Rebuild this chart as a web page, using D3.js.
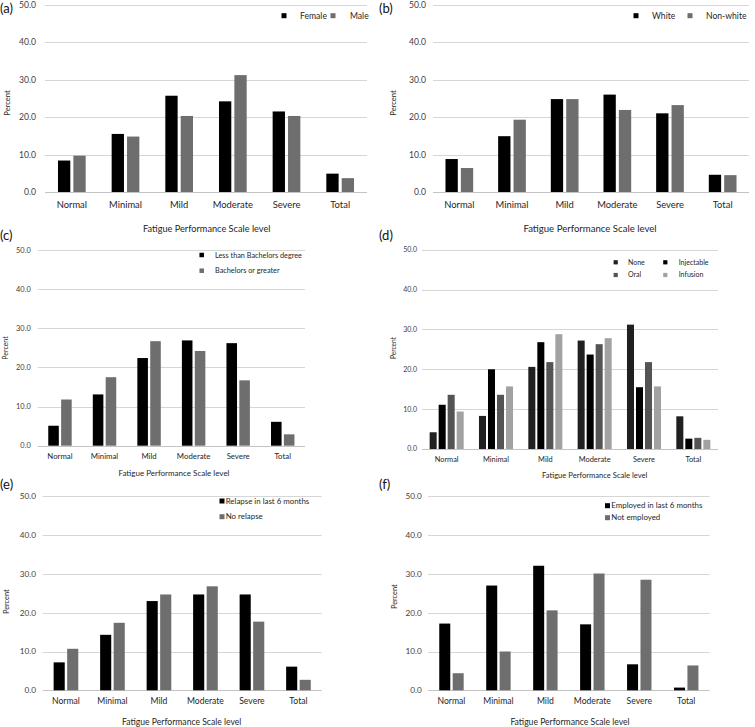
<!DOCTYPE html>
<html>
<head>
<meta charset="utf-8">
<script src="https://cdn.jsdelivr.net/npm/d3@7"></script>
<style>
  body { margin: 0; background: #fff; }
  svg { display: block; }
  text { font-family: Lato, "Open Sans", sans-serif; }
</style>
</head>
<body>
<svg id="chart" width="755" height="727"></svg>
<script>
// ---------------- DATA ----------------
const categories = ["Normal", "Minimal", "Mild", "Moderate", "Severe", "Total"];
const yTicks = [0, 10, 20, 30, 40, 50];
const xAxisTitle = "Fatigue Performance Scale level";
const yAxisTitle = "Percent";

// (a) gender
const genderSeries = ["Female", "Male"];
const femaleVals = [8.4, 15.5, 25.7, 24.2, 21.5, 4.9];
const maleVals = [9.7, 14.8, 20.3, 31.2, 20.3, 3.7];
// (b) race
const raceSeries = ["White", "Non-white"];
const whiteVals = [8.8, 14.9, 24.8, 26.0, 21.0, 4.6];
const nonWhiteVals = [6.4, 19.3, 24.8, 21.9, 23.2, 4.5];
// (c) education
const eduSeries = ["Less than Bachelors degree", "Bachelors or greater"];
const lessBachVals = [5.1, 13.1, 22.4, 26.9, 26.2, 6.1];
const bachVals = [11.8, 17.5, 26.7, 24.2, 16.7, 2.9];
// (d) treatment
const treatSeries = ["None", "Injectable", "Oral", "Infusion"];
const noneVals = [4.2, 8.3, 20.6, 27.2, 31.2, 8.2];
const injectVals = [11.1, 20.0, 26.8, 23.7, 15.5, 2.6];
const oralVals = [13.6, 13.6, 21.8, 26.3, 21.8, 2.8];
const infusionVals = [9.4, 15.7, 28.8, 27.8, 15.7, 2.3];
// (e) relapse
const relapseSeries = ["Relapse in last 6 months", "No relapse"];
const relapseVals = [7.2, 14.3, 23.0, 24.7, 24.7, 6.1];
const noRelapseVals = [10.7, 17.4, 24.7, 26.8, 17.7, 2.7];
// (f) employment
const employSeries = ["Employed in last 6 months", "Not employed"];
const employedVals = [17.2, 27.0, 32.1, 17.0, 6.7, 0.7];
const notEmployedVals = [4.4, 10.0, 20.6, 30.1, 28.5, 6.4];

// ---------------- LAYOUT ----------------
const panels = [
  { label: "(a)", lx: 0, ly: 13, series: genderSeries, values: [femaleVals, maleVals],
    colors: ["#000000", "#6e6e6e"], x: [45, 367], y: [192, 4.7], group: 0.516, inner: 0.2,
    tickX: 36, tickFs: 8.6, catY: 208, catFs: 9.4, titleX: 206.7, titleY: 231.5, titleFs: 9.2,
    pX: 7, pY: 103, pFs: 7.6,
    legend: { type: "row", y: 15.7, items: [[284, 300], [333, 350]], fs: 8.6, sq: 5 } },
  { label: "(b)", lx: 379, ly: 13, series: raceSeries, values: [whiteVals, nonWhiteVals],
    colors: ["#000000", "#6e6e6e"], x: [433, 749], y: [192, 4.7], group: 0.526, inner: 0.2,
    tickX: 426, tickFs: 8.6, catY: 208, catFs: 9.4, titleX: 590, titleY: 231.5, titleFs: 9.6,
    pX: 393, pY: 103, pFs: 7.6,
    legend: { type: "row", y: 15.7, items: [[636, 652], [690, 706]], fs: 8.6, sq: 5 } },
  { label: "(c)", lx: 0, ly: 240, series: eduSeries, values: [lessBachVals, bachVals],
    colors: ["#000000", "#6e6e6e"], x: [37.7, 305], y: [445.7, 250], group: 0.526, inner: 0.18,
    tickX: 30.7, tickFs: 7.4, catY: 459, catFs: 7.8, titleX: 174, titleY: 476.3, titleFs: 8,
    pX: 6, pY: 348, pFs: 7,
    legend: { type: "col", x: 201.7, tx: 215, ys: [255, 270.7], fs: 7.3, sq: 4.5 } },
  { label: "(d)", lx: 379, ly: 240, series: treatSeries, values: [noneVals, injectVals, oralVals, infusionVals],
    colors: ["#202020", "#000000", "#545454", "#a2a2a2"], x: [422, 718], y: [449, 249.7], group: 0.69, inner: 0.22,
    tickX: 417, tickFs: 7, catY: 462, catFs: 7.4, titleX: 594.7, titleY: 478, titleFs: 7.6,
    pX: 394, pY: 348, pFs: 6.6,
    legend: { type: "grid", items: [[615.7, 628, 262.3], [665.3, 678.7, 262.3], [615.7, 628, 275], [665.3, 678.7, 275]], fs: 7, sq: 4.2 } },
  { label: "(e)", lx: 0, ly: 489, series: relapseSeries, values: [relapseVals, noRelapseVals],
    colors: ["#000000", "#6e6e6e"], x: [42.7, 321.7], y: [690.3, 496.3], group: 0.53, inner: 0.18,
    tickX: 36, tickFs: 8.2, catY: 704, catFs: 8.6, titleX: 181.7, titleY: 725, titleFs: 8.6,
    pX: 6, pY: 601.7, pFs: 7.4,
    legend: { type: "col", x: 222, tx: 225.7, ys: [501, 516.7], fs: 7.9, sq: 5 } },
  { label: "(f)", lx: 379, ly: 489, series: employSeries, values: [employedVals, notEmployedVals],
    colors: ["#000000", "#6e6e6e"], x: [428, 709.7], y: [690.3, 496.3], group: 0.52, inner: 0.18,
    tickX: 421.7, tickFs: 8.2, catY: 704, catFs: 8.6, titleX: 570, titleY: 725, titleFs: 8.6,
    pX: 394, pY: 596.7, pFs: 7.4,
    legend: { type: "col", x: 607.5, tx: 611.3, ys: [505.7, 517.7], fs: 7.9, sq: 5 } }
];

const svg = d3.select("#chart");

panels.forEach(p => {
  const g = svg.append("g");
  const x0 = d3.scaleBand().domain(categories).range(p.x)
    .paddingInner(1 - p.group).paddingOuter((1 - p.group) / 2);
  const x1 = d3.scaleBand().domain(p.series).range([0, x0.bandwidth()]).paddingInner(p.inner);
  const y = d3.scaleLinear().domain([0, 50]).range(p.y);

  // gridlines
  g.selectAll("line.grid").data(yTicks).join("line")
    .attr("x1", p.x[0]).attr("x2", p.x[1])
    .attr("y1", d => Math.round(y(d)) + 0.5).attr("y2", d => Math.round(y(d)) + 0.5)
    .attr("stroke", d => d === 0 ? "#c4c4c4" : "#d6d6d6").attr("stroke-width", 1);

  // y tick labels
  g.selectAll("text.tick").data(yTicks).join("text")
    .attr("x", p.tickX).attr("y", d => y(d)).attr("dy", "0.35em")
    .attr("text-anchor", "end").attr("font-size", p.tickFs).attr("fill", "#404040")
    .text(d => d3.format(".1f")(d));

  // bars
  const groups = g.selectAll("g.cat").data(categories).join("g")
    .attr("transform", c => `translate(${x0(c)},0)`);
  groups.selectAll("rect").data((c, i) => p.series.map((s, k) => ({ s, k, v: p.values[k][i] })))
    .join("rect")
    .attr("x", d => x1(d.s)).attr("width", x1.bandwidth())
    .attr("y", d => y(d.v)).attr("height", d => y(0) - y(d.v))
    .attr("fill", d => p.colors[d.k]);

  // category labels
  g.selectAll("text.cat").data(categories).join("text")
    .attr("x", c => x0(c) + x0.bandwidth() / 2).attr("y", p.catY)
    .attr("text-anchor", "middle").attr("font-size", p.catFs).attr("fill", "#262626")
    .text(c => c);

  // axis titles
  g.append("text").attr("x", p.titleX).attr("y", p.titleY).attr("text-anchor", "middle")
    .attr("font-size", p.titleFs).attr("fill", "#262626").text(xAxisTitle);
  g.append("text").attr("transform", `translate(${p.pX},${p.pY}) rotate(-90)`)
    .attr("text-anchor", "middle").attr("dy", "0.35em")
    .attr("font-size", p.pFs).attr("fill", "#262626").text(yAxisTitle);

  // panel label
  g.append("text").attr("x", p.lx).attr("y", p.ly)
    .attr("font-family", "'Liberation Sans', Arial, sans-serif")
    .attr("font-size", 13).attr("fill", "#111").text(p.label);

  // legend
  const L = p.legend;
  let items;
  if (L.type === "row") items = p.series.map((s, k) => ({ s, k, sx: L.items[k][0], tx: L.items[k][1], y: L.y }));
  else if (L.type === "col") items = p.series.map((s, k) => ({ s, k, sx: L.x, tx: L.tx, y: L.ys[k] }));
  else items = p.series.map((s, k) => ({ s, k, sx: L.items[k][0], tx: L.items[k][1], y: L.items[k][2] }));
  const lg = g.selectAll("g.leg").data(items).join("g");
  lg.append("rect")
    .attr("x", d => d.sx - L.sq / 2).attr("y", d => d.y - L.sq / 2)
    .attr("width", L.sq).attr("height", L.sq).attr("fill", d => p.colors[d.k]);
  lg.append("text").attr("x", d => d.tx).attr("y", d => d.y).attr("dy", "0.35em")
    .attr("font-size", L.fs).attr("fill", "#262626").text(d => d.s);
});
</script>
</body>
</html>
